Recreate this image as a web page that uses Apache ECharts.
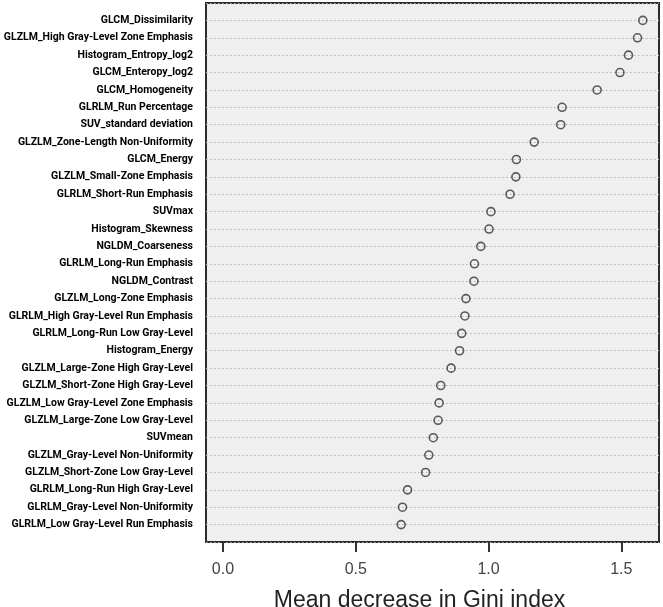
<!DOCTYPE html>
<html>
<head>
<meta charset="utf-8">
<script src="https://cdn.jsdelivr.net/npm/echarts@6/dist/echarts.min.js"></script>
<style>html,body{margin:0;padding:0;background:#fff}#c{width:663px;height:607px}</style>
</head>
<body>
<div id="c"></div>
<script>
// Feature names, top to bottom
var features = [
  "GLCM_Dissimilarity",
  "GLZLM_High Gray-Level Zone Emphasis",
  "Histogram_Entropy_log2",
  "GLCM_Enteropy_log2",
  "GLCM_Homogeneity",
  "GLRLM_Run Percentage",
  "SUV_standard deviation",
  "GLZLM_Zone-Length Non-Uniformity",
  "GLCM_Energy",
  "GLZLM_Small-Zone Emphasis",
  "GLRLM_Short-Run Emphasis",
  "SUVmax",
  "Histogram_Skewness",
  "NGLDM_Coarseness",
  "GLRLM_Long-Run Emphasis",
  "NGLDM_Contrast",
  "GLZLM_Long-Zone Emphasis",
  "GLRLM_High Gray-Level Run Emphasis",
  "GLRLM_Long-Run Low Gray-Level",
  "Histogram_Energy",
  "GLZLM_Large-Zone High Gray-Level",
  "GLZLM_Short-Zone High Gray-Level",
  "GLZLM_Low Gray-Level Zone Emphasis",
  "GLZLM_Large-Zone Low Gray-Level",
  "SUVmean",
  "GLZLM_Gray-Level Non-Uniformity",
  "GLZLM_Short-Zone Low Gray-Level",
  "GLRLM_Long-Run High Gray-Level",
  "GLRLM_Gray-Level Non-Uniformity",
  "GLRLM_Low Gray-Level Run Emphasis"
];
// Mean decrease in Gini index
var giniValues = [
  1.581, 1.561, 1.527, 1.495, 1.409, 1.277, 1.272, 1.172, 1.105, 1.103,
  1.081, 1.009, 1.002, 0.971, 0.947, 0.945, 0.915, 0.911, 0.899, 0.891,
  0.859, 0.820, 0.814, 0.810, 0.792, 0.775, 0.763, 0.695, 0.676, 0.671
];
var xTicks = [0, 0.5, 1.0, 1.5];
var xTitle = "Mean decrease in Gini index";

var data = giniValues.map(function (v, i) { return [v, i + 1]; });

var chart = echarts.init(document.getElementById('c'));
chart.setOption({
  animation: false,
  grid: {
    left: 206, right: 4, top: 3, bottom: 65, outerBoundsMode: 'none', containLabel: false,
    show: true, backgroundColor: '#efefef', borderColor: '#2b2b2b', borderWidth: 2
  },
  xAxis: {
    type: 'value', min: -0.064, max: 1.642, position: 'bottom',
    axisLine: { show: false, onZero: false },
    axisTick: { show: true, customValues: xTicks, length: 10, lineStyle: { color: '#333', width: 2 } },
    axisLabel: { customValues: xTicks, formatter: function (v) { return v.toFixed(1); },
      margin: 20, fontSize: 16, color: '#444', fontFamily: 'Liberation Sans' },
    splitLine: { show: false },
    name: xTitle, nameLocation: 'middle', nameGap: 47,
    nameTextStyle: { fontSize: 23, color: '#222', fontFamily: 'Liberation Sans', padding: [0, 26, 0, 0] }
  },
  yAxis: {
    type: 'value', min: 0, max: features.length + 1, interval: 1, inverse: true,
    axisLine: { show: false }, axisTick: { show: false },
    axisLabel: {
      margin: 13, fontSize: 10.5, fontWeight: 'bold', color: '#000',
      fontFamily: "Roboto",
      formatter: function (v) { return features[v - 1] || ''; }
    },
    splitLine: { show: true, lineStyle: { color: '#b0b0b0', type: [1.5, 2.5], width: 1 } }
  },
  series: [{
    type: 'scatter', data: data, symbol: 'circle', symbolSize: 8,
    itemStyle: { color: 'rgba(0,0,0,0)', borderColor: '#333', borderWidth: 1.6 }
  }]
});
</script>
</body>
</html>
